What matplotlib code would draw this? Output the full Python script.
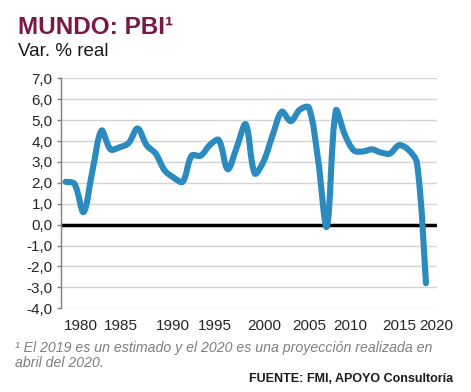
import numpy as np
import matplotlib
matplotlib.use("Agg")
import matplotlib.pyplot as plt
from matplotlib.path import Path
from matplotlib.patches import PathPatch

plt.rcParams['font.family'] = ['Liberation Sans', 'DejaVu Sans']

# world GDP, real % change
years = list(range(1980, 2021))
growth = [2.05, 1.95, 0.6, 2.6, 4.5, 3.6, 3.7, 3.9, 4.6, 3.8,
          3.4, 2.6, 2.25, 2.05, 3.3, 3.3, 3.8, 4.05, 2.65, 3.7,
          4.8, 2.45, 3.05, 4.3, 5.4, 4.95, 5.5, 5.6, 3.2, -0.1,
          5.45, 4.3, 3.55, 3.5, 3.6, 3.45, 3.4, 3.8, 3.6, 2.95,
          -2.8]
year_labels = ['1980', '1985', '1990', '1995', '2000', '2005', '2010', '2015', '2020']
# where the labels sit along the axis (they are not centred on their years)
label_pos = [1981.66, 1986.17, 1991.86, 1996.57, 2002.04, 2007.07, 2011.56, 2017.03, 2021.18]
y_ticks = list(range(-4, 8))

LINE = '#2B8BBE'
TITLE = '#7A1848'


def smooth_path(x, y, sx, sy):
    # excel-like smoothed line: cubic bezier through every point,
    # tangents weighted by segment length in screen space (sx, sy = px per unit)
    pts = np.column_stack([x, y]).astype(float)
    n = len(pts)

    def dist(a, b):
        return np.hypot((b[0] - a[0]) * sx, (b[1] - a[1]) * sy)

    verts = [pts[0]]
    codes = [Path.MOVETO]
    for i in range(n - 1):
        p0 = pts[i - 1] if i > 0 else pts[i]
        p1 = pts[i]
        p2 = pts[i + 1]
        p3 = pts[i + 2] if i + 2 < n else pts[i + 1]
        d01, d12, d23 = dist(p0, p1), dist(p1, p2), dist(p2, p3)
        w1 = d12 / (d01 + d12) if d01 > 0 else 0.5
        w2 = d12 / (d12 + d23) if d23 > 0 else 0.5
        verts += [p1 + (p2 - p0) * w1 / 3, p2 - (p3 - p1) * w2 / 3, p2]
        codes += [Path.CURVE4] * 3
    return Path(verts, codes)


fig = plt.figure(figsize=(4.71, 3.92), dpi=100)
ax_w, ax_h = 375.6, 230
ax = fig.add_axes([61 / 471, 83.7 / 392, ax_w / 471, ax_h / 392])

ax.set_xlim(1979.5, 2020.5)
ax.set_ylim(-4, 7)

ax.set_yticks(y_ticks)
ax.set_yticklabels([f'{v:.1f}'.replace('.', ',') for v in y_ticks])
for v in y_ticks:
    if v != 0:
        ax.axhline(v, color='#D3D3D3', lw=1.0, zorder=0)
ax.axhline(0, color='black', lw=2.5, zorder=1)

sx = ax_w / 41
sy = ax_h / 11
ax.add_patch(PathPatch(smooth_path(years, growth, sx, sy), facecolor='none', edgecolor=LINE,
                       lw=4.4, capstyle='round', joinstyle='round', zorder=3))

# category tick marks hanging from the zero line
bounds = np.arange(years[0] - 0.5, years[-1], 5)
ax.vlines(bounds, -0.13, 0, color='black', lw=1.5, zorder=2)

for s in ['top', 'right', 'bottom']:
    ax.spines[s].set_visible(False)
ax.spines['left'].set_color('#7F7F7F')
ax.spines['left'].set_linewidth(1.0)
ax.tick_params(axis='y', length=3, width=1, color='#7F7F7F', labelsize=11,
               labelcolor='#262626', pad=3)

ax.set_xticks(label_pos)
ax.set_xticklabels(year_labels)
ax.tick_params(axis='x', length=0, labelsize=11, labelcolor='#262626', pad=8)
for lab in ax.get_xticklabels():
    lab.set_clip_on(False)

fig.text(18 / 471, 1 - 27 / 392, 'MUNDO: PBI¹', fontsize=17.5, fontweight='bold',
         color=TITLE, va='center', ha='left')
fig.text(18 / 471, 1 - 52 / 392, 'Var. % real', fontsize=13.5, color='#1A1A1A',
         va='center', ha='left')

fig.text(15 / 471, 1 - 348 / 392,
         '¹ El 2019 es un estimado y el 2020 es una proyección realizada en',
         fontsize=10.2, style='italic', color='#7F7F7F', va='center', ha='left')
fig.text(15 / 471, 1 - 363 / 392, 'abril del 2020.', fontsize=10.2, style='italic',
         color='#7F7F7F', va='center', ha='left')
fig.text(453 / 471, 1 - 379 / 392, 'FUENTE: FMI, APOYO Consultoría', fontsize=9,
         fontweight='bold', color='#1A1A1A', va='center', ha='right')

fig.savefig('out.png', dpi=100)
